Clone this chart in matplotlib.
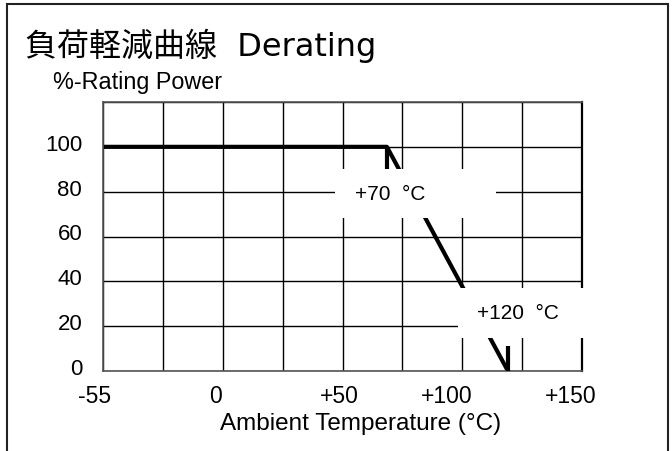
import numpy as np
import matplotlib
matplotlib.use('Agg')
import matplotlib.pyplot as plt
from matplotlib.patches import Rectangle
from matplotlib.transforms import ScaledTranslation, blended_transform_factory

# derating curve
temp = [-55, 66.5, 118.3]
power = [100, 100, 0]

# axis labels
y_ticks = [0, 20, 40, 60, 80, 100]
x_tick_pos = [-58.5, -7, 46, 92, 145]     # where the labels sit in the picture
x_tick_labels = ['-55', '0', '+50', '+100', '+150']
x_grid = np.linspace(-55, 150, 9)
y_grid = [0, 20, 40, 60, 80, 100, 120]

plt.rcParams['font.family'] = ['Liberation Sans', 'Noto Sans CJK JP']

fig = plt.figure(figsize=(6.72, 4.52), dpi=100)
ax = fig.add_axes([103/672, 1 - 372/452, 479/672, 269/452])

for x in x_grid:
    ax.axvline(x, color='black', lw=1.0, zorder=1)
for y in y_grid:
    ax.axhline(y, color='black', lw=1.0, zorder=1)

ax.plot(temp, power, color='black', lw=3, zorder=2, solid_capstyle='butt')

# label boxes covering the grid
ax.add_patch(Rectangle((44.3, 68.3), 68.9, 21.9, facecolor='white', edgecolor='none', zorder=3))
ax.add_patch(Rectangle((96.9, 14.7), 70, 22.4, facecolor='white', edgecolor='none', zorder=3, clip_on=False))
ax.text(67.8, 79, '+70  °C', fontsize=15, ha='center', va='center', zorder=4)
ax.text(122.6, 26.3, '+120  °C', fontsize=15, ha='center', va='center', zorder=4)
# leader lines
ax.plot([temp[1], temp[1]], [power[1], 90.2], color='black', lw=3, zorder=4, solid_capstyle='butt')
ax.plot([temp[2], temp[2]], [11.2, power[2]], color='black', lw=3, zorder=4, solid_capstyle='butt')

ax.set_xticks([])
ax.set_yticks(y_ticks, [str(v) for v in y_ticks])
ax.tick_params(length=0, labelsize=16)
ax.tick_params(axis='y', pad=15)
for lbl in ax.get_yticklabels():
    lbl.set_transform(lbl.get_transform() + ScaledTranslation(0, 5/100, fig.dpi_scale_trans))

trans = blended_transform_factory(ax.transData, fig.transFigure)
for xp, lab in zip(x_tick_pos, x_tick_labels):
    ax.text(xp, 1 - 397/452, lab, transform=trans, fontsize=16.5, ha='center', va='center', clip_on=False)

ax.set_xlim(-55, 150)
ax.set_ylim(0, 120)

for s in ['left', 'bottom', 'top']:
    ax.spines[s].set_color('#555555')
    ax.spines[s].set_linewidth(1.2)
ax.spines['right'].set_linewidth(1.6)

fig.text(361/672, 1 - 424/452, 'Ambient Temperature (°C)', fontsize=17.5, ha='center', va='center')
fig.text(53/672, 1 - 83/452, '%-Rating Power', fontsize=16.8, ha='left', va='center')
fig.text(25/672, 1 - 46/452, '負荷軽減曲線  Derating', fontsize=23, ha='left', va='center',
         family=['DejaVu Sans', 'Noto Sans CJK JP'])

# outer frame
fig.patches.append(Rectangle((7/672, -0.1), 661/672, 1.1 - 5/452, transform=fig.transFigure,
                             fill=False, edgecolor='#222222', lw=1.5))

plt.savefig('out.png', dpi=100)
